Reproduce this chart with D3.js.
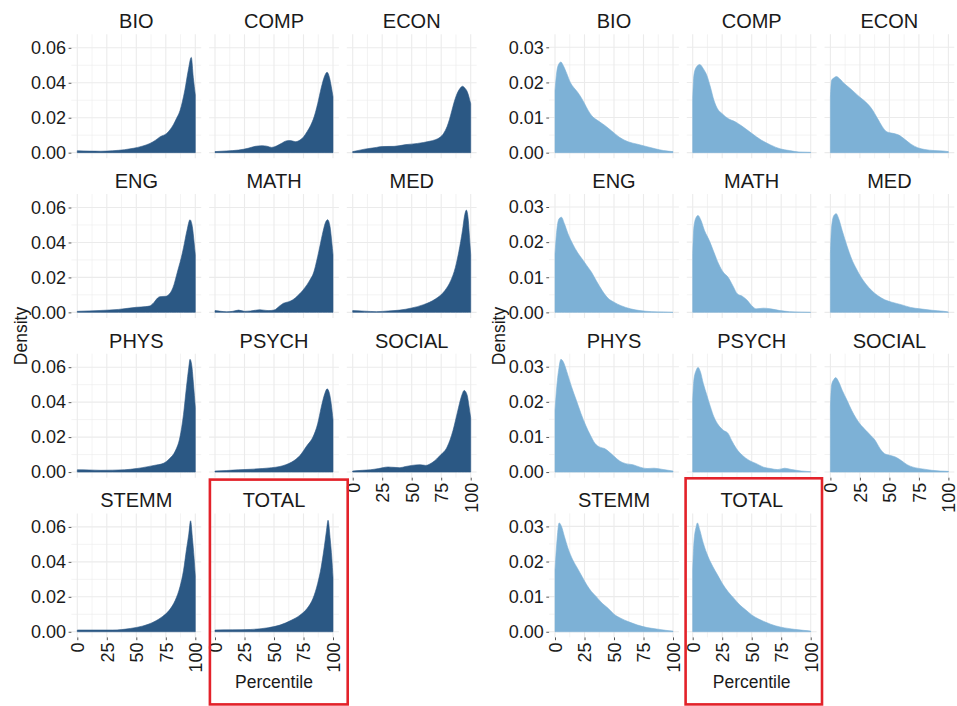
<!DOCTYPE html>
<html>
<head>
<meta charset="utf-8">
<script src="https://cdn.jsdelivr.net/npm/d3@7"></script>
<style>
  body { margin: 0; background: #fff; }
  svg { display: block; }
  text { font-family: "Liberation Sans", Arial, sans-serif; }
</style>
</head>
<body>
<svg id="chart" width="957" height="706"></svg>
<script>
// Fields shown as facets, in reading order
const fields = ["BIO", "COMP", "ECON", "ENG", "MATH", "MED", "PHYS", "PSYCH", "SOCIAL", "STEMM", "TOTAL"];
const xTicks = [0, 25, 50, 75, 100];
const xMinor = [12.5, 37.5, 62.5, 87.5];
const highYTicks = [0, 0.02, 0.04, 0.06];
const highYMinor = [0.01, 0.03, 0.05];
const lowYTicks = [0, 0.01, 0.02, 0.03];
const lowYMinor = [0.005, 0.015, 0.025];

// Density over percentile, high-percentile group: [percentile, density]
const highBIO = [[0,0.0011],[10,0.0009],[20,0.0008],[30,0.0011],[40,0.0017],[47.5,0.0025],[55,0.0037],[61.6,0.0053],[66,0.007],[70,0.009],[75.7,0.011],[81.4,0.016],[84,0.0195],[87,0.024],[89,0.029],[91.2,0.036],[94,0.047],[96.6,0.0545],[98.3,0.043],[100,0.033]];
const highCOMP = [[0,0.0006],[10,0.001],[20,0.0015],[28,0.0025],[34,0.0036],[40,0.004],[44,0.0037],[48,0.003],[52,0.0038],[56,0.0052],[61,0.0068],[64,0.0069],[68,0.0063],[72,0.0072],[75,0.009],[78,0.012],[81,0.0155],[84,0.0205],[87,0.028],[90,0.037],[93,0.044],[95,0.046],[97,0.043],[98.5,0.038],[100,0.032]];
const highECON = [[0,0.0006],[10,0.002],[20,0.003],[25,0.0035],[35,0.0036],[45,0.0046],[55,0.0053],[65,0.0065],[70,0.0074],[74,0.0088],[77,0.011],[80,0.015],[82,0.019],[84,0.024],[86,0.029],[88,0.033],[91,0.0368],[93,0.038],[95,0.037],[97,0.035],[100,0.028]];
const highENG = [[0,0.0006],[20,0.0011],[35,0.0017],[50,0.0029],[58,0.0033],[61,0.0036],[65,0.0057],[68,0.0082],[70,0.009],[75,0.0092],[78,0.0105],[80,0.0125],[82,0.016],[84,0.021],[86,0.026],[88,0.031],[90,0.037],[93,0.047],[95.5,0.053],[97.5,0.049],[99,0.04],[100,0.033]];
const highMATH = [[0,0.001],[5,0.0006],[10,0.0003],[15,0.0006],[20,0.0013],[25,0.0006],[30,0.0008],[38,0.0015],[45,0.001],[50,0.0013],[55,0.0038],[58,0.0052],[62,0.006],[66,0.0072],[70,0.0095],[73,0.0115],[76,0.014],[80,0.018],[84,0.0236],[86,0.029],[88,0.035],[91,0.0446],[94,0.052],[95.5,0.053],[97.5,0.049],[99,0.04],[100,0.033]];
const highMED = [[0,0.001],[10,0.0007],[20,0.0004],[30,0.0008],[40,0.0013],[50,0.0025],[60,0.0044],[70,0.0076],[78,0.0124],[83,0.018],[87,0.0257],[90,0.035],[93,0.0467],[95,0.056],[96.3,0.0585],[98,0.0524],[99,0.043],[100,0.033]];
const highPHYS = [[0,0.0013],[10,0.0012],[20,0.001],[30,0.0011],[40,0.0013],[50,0.002],[55,0.0025],[65,0.0038],[73,0.005],[78,0.0076],[83,0.012],[87,0.02],[90,0.033],[92.5,0.0486],[94.5,0.06],[95.5,0.0645],[97,0.061],[98.5,0.05],[100,0.037]];
const highPSYCH = [[0,0.0006],[10,0.0009],[20,0.0013],[30,0.0016],[40,0.002],[48,0.0025],[55,0.0032],[60,0.0042],[65,0.0057],[72,0.0095],[78,0.0152],[83,0.02],[87,0.0276],[90,0.037],[93,0.0448],[95,0.0476],[97,0.045],[98.5,0.039],[100,0.03]];
const highSOCIAL = [[0,0.0006],[8,0.001],[15,0.0013],[22,0.002],[30,0.0029],[35,0.0027],[40,0.0025],[45,0.0032],[50,0.0038],[57,0.0042],[62,0.0038],[65,0.0045],[68,0.0057],[74,0.0095],[80,0.0143],[85,0.0238],[89,0.035],[92,0.043],[94.5,0.0467],[97,0.044],[98.5,0.038],[100,0.031]];
const highSTEMM = [[0,0.001],[15,0.001],[30,0.001],[45,0.0019],[55,0.0032],[65,0.0057],[72,0.0086],[78,0.0124],[83,0.018],[87,0.0257],[90,0.035],[92.5,0.047],[94.5,0.056],[96,0.0635],[97.5,0.054],[99,0.042],[100,0.032]];
const highTOTAL = [[0,0.001],[15,0.0011],[30,0.0013],[45,0.0023],[55,0.0038],[65,0.0067],[72,0.0095],[78,0.0133],[83,0.019],[87,0.0276],[90,0.037],[92.5,0.048],[94.5,0.058],[95.8,0.0638],[97.5,0.054],[99,0.042],[100,0.031]];

// Density over percentile, low-percentile group: [percentile, density]
const lowBIO = [[0,0.0177],[1.5,0.023],[3,0.0251],[5,0.0258],[7,0.0248],[10,0.0225],[13,0.02],[16,0.0185],[19,0.0173],[22,0.0158],[25,0.014],[28,0.0121],[32,0.0102],[36,0.0092],[42,0.0078],[48,0.0062],[55,0.0043],[62,0.0031],[70,0.0024],[78,0.0017],[85,0.0011],[92,0.0006],[100,0.0003]];
const lowCOMP = [[0,0.0154],[1,0.022],[3,0.0243],[6,0.0251],[9,0.0239],[12,0.022],[15,0.0187],[18,0.0149],[21,0.0125],[25,0.0111],[30,0.0097],[36,0.0088],[42,0.0075],[50,0.0055],[58,0.0036],[66,0.0022],[74,0.0011],[82,0.0006],[90,0.0002],[100,0.0001]];
const lowECON = [[0,0.0158],[1,0.0206],[3,0.0213],[5,0.0217],[8,0.021],[12,0.0196],[16,0.0185],[20,0.0173],[25,0.0158],[30,0.0144],[35,0.0125],[40,0.0097],[44,0.0074],[48,0.0059],[53,0.0055],[58,0.005],[63,0.0038],[68,0.0025],[74,0.0014],[80,0.0009],[88,0.0006],[95,0.0005],[100,0.0003]];
const lowENG = [[0,0.0167],[1.5,0.0233],[3.5,0.0267],[5.5,0.0271],[8,0.0252],[11,0.0224],[15,0.0195],[19,0.0171],[23,0.0152],[27,0.0133],[31,0.0114],[35,0.009],[40,0.0062],[45,0.004],[50,0.0029],[56,0.0019],[64,0.001],[72,0.0005],[82,0.0002],[92,0.0001],[100,0]];
const lowMATH = [[0,0.0167],[1,0.0243],[3,0.0271],[4.5,0.0276],[7,0.0262],[10,0.0233],[14,0.0205],[18,0.0171],[22,0.0138],[26,0.0114],[30,0.01],[34,0.0076],[38,0.0052],[42,0.0046],[46,0.0035],[50,0.0019],[54,0.001],[60,0.0012],[66,0.001],[74,0.0005],[82,0.0002],[100,0]];
const lowMED = [[0,0.0167],[1,0.0243],[3,0.0276],[5,0.0281],[7,0.0267],[10,0.0233],[14,0.019],[18,0.0152],[22,0.0124],[26,0.01],[30,0.0081],[35,0.0062],[40,0.0048],[46,0.0036],[52,0.0029],[60,0.0022],[68,0.0014],[76,0.001],[86,0.0006],[96,0.0003],[100,0.0001]];
const lowPHYS = [[0,0.0176],[1.5,0.0243],[3.5,0.03],[5,0.0321],[7,0.0314],[10,0.0286],[14,0.0243],[18,0.0205],[22,0.0167],[26,0.0133],[30,0.0105],[34,0.0081],[38,0.0071],[42,0.0067],[46,0.0057],[50,0.0045],[55,0.0031],[60,0.0024],[66,0.0021],[72,0.0014],[78,0.001],[84,0.0011],[92,0.0007],[100,0.0003]];
const lowPSYCH = [[0,0.0205],[1,0.0262],[3,0.029],[4.5,0.0298],[6.5,0.0286],[9,0.0252],[12,0.0219],[15,0.0186],[18,0.0157],[22,0.0133],[26,0.0119],[30,0.011],[33,0.009],[37,0.0067],[42,0.0048],[48,0.0033],[54,0.0024],[60,0.0014],[66,0.001],[72,0.0007],[78,0.0011],[84,0.0007],[92,0.0003],[100,0.0001]];
const lowSOCIAL = [[0,0.0186],[1,0.0248],[3,0.0264],[4.5,0.0269],[7,0.0257],[10,0.0233],[14,0.0205],[18,0.0176],[22,0.0152],[26,0.0133],[30,0.0119],[34,0.0105],[38,0.009],[42,0.0067],[46,0.0052],[50,0.0048],[55,0.0043],[60,0.0033],[65,0.0021],[70,0.0014],[78,0.0009],[86,0.0005],[100,0.0002]];
const lowSTEMM = [[0,0.0176],[1.5,0.0252],[3.5,0.031],[5.5,0.03],[8,0.0271],[11,0.0238],[15,0.0205],[19,0.0181],[23,0.0157],[27,0.0133],[31,0.0114],[35,0.01],[40,0.0081],[45,0.0067],[50,0.005],[56,0.0038],[62,0.0029],[70,0.0019],[78,0.0012],[86,0.0008],[94,0.0004],[100,0.0002]];
const lowTOTAL = [[0,0.0176],[1,0.0252],[3,0.03],[4,0.031],[6,0.029],[9,0.0252],[13,0.0214],[17,0.0186],[21,0.0162],[25,0.0138],[30,0.0114],[35,0.0095],[40,0.0076],[45,0.0062],[50,0.0048],[56,0.0036],[62,0.0027],[70,0.0017],[78,0.0011],[86,0.0007],[94,0.0004],[100,0.0002]];

const highSeries = [highBIO, highCOMP, highECON, highENG, highMATH, highMED, highPHYS, highPSYCH, highSOCIAL, highSTEMM, highTOTAL];
const lowSeries = [lowBIO, lowCOMP, lowECON, lowENG, lowMATH, lowMED, lowPHYS, lowPSYCH, lowSOCIAL, lowSTEMM, lowTOTAL];

// Layout
const PANEL_W = 129.8, PANEL_H = 124;
const COL_STEP = 137.7, ROW_STEP = 159.7, PANEL_TOP = 34.3;
const TEXT = "#1a1a1a";
const GRID = "#ebebeb";

const svg = d3.select("#chart");
svg.append("rect").attr("width", 957).attr("height", 706).attr("fill", "#fff");

function drawFigure(cfg) {
  const g = svg.append("g");
  const yMax = d3.max(cfg.series, s => d3.max(s, d => d[1]));
  const yDomain = [-0.05 * yMax, 1.05 * yMax];
  const fmt = d3.format(".2f");

  fields.forEach((name, i) => {
    const row = Math.floor(i / 3), col = i % 3;
    const left = cfg.left + col * COL_STEP;
    const top = PANEL_TOP + row * ROW_STEP;
    const x = d3.scaleLinear().domain([-5, 105]).range([left, left + PANEL_W]);
    const y = d3.scaleLinear().domain(yDomain).range([top + PANEL_H, top]);
    const p = g.append("g");

    // grid
    p.selectAll(".vmin").data(xMinor).join("line")
      .attr("x1", d => x(d)).attr("x2", d => x(d))
      .attr("y1", top).attr("y2", top + PANEL_H)
      .attr("stroke", GRID).attr("stroke-width", 0.6);
    p.selectAll(".hmin").data(cfg.yMinor).join("line")
      .attr("x1", left).attr("x2", left + PANEL_W)
      .attr("y1", d => y(d)).attr("y2", d => y(d))
      .attr("stroke", GRID).attr("stroke-width", 0.6);
    p.selectAll(".vmaj").data(xTicks).join("line")
      .attr("x1", d => x(d)).attr("x2", d => x(d))
      .attr("y1", top).attr("y2", top + PANEL_H)
      .attr("stroke", GRID).attr("stroke-width", 1.1);
    p.selectAll(".hmaj").data(cfg.yTicks).join("line")
      .attr("x1", left).attr("x2", left + PANEL_W)
      .attr("y1", d => y(d)).attr("y2", d => y(d))
      .attr("stroke", GRID).attr("stroke-width", 1.1);

    // density area
    const area = d3.area()
      .x(d => x(d[0]))
      .y0(y(0))
      .y1(d => y(d[1]))
      .curve(d3.curveMonotoneX);
    p.append("path").datum(cfg.series[i])
      .attr("d", area)
      .attr("fill", cfg.color)
      .attr("stroke", cfg.color)
      .attr("stroke-width", 0.6);

    // facet title
    p.append("text")
      .attr("x", left + PANEL_W / 2).attr("y", top - 6)
      .attr("text-anchor", "middle")
      .attr("font-size", 20).attr("fill", TEXT)
      .text(name);

    // y axis on the first column
    if (col === 0) {
      const ax = p.append("g").attr("transform", `translate(${left},0)`)
        .call(d3.axisLeft(y).tickValues(cfg.yTicks).tickFormat(fmt).tickSize(2.8).tickPadding(2.6));
      ax.select(".domain").remove();
      ax.selectAll(".tick line").attr("stroke", "#555");
      ax.selectAll(".tick text").attr("font-size", 18).attr("fill", TEXT)
        .attr("font-family", "Liberation Sans, Arial, sans-serif");
    }

    // x axis under the last panel of each column
    if (i + 3 >= fields.length) {
      const ax = p.append("g").attr("transform", `translate(0,${top + PANEL_H})`)
        .call(d3.axisBottom(x).tickValues(xTicks).tickSize(2.8));
      ax.select(".domain").remove();
      ax.selectAll(".tick line").attr("stroke", "#555");
      ax.selectAll(".tick text")
        .attr("transform", "rotate(-90)")
        .attr("x", -5).attr("y", 0).attr("dy", "0.35em")
        .attr("text-anchor", "end")
        .attr("font-size", 18).attr("fill", TEXT)
        .attr("font-family", "Liberation Sans, Arial, sans-serif");
    }
  });

  // axis titles
  g.append("text")
    .attr("transform", `translate(${cfg.yTitleX},336) rotate(-90)`)
    .attr("text-anchor", "middle")
    .attr("font-size", 17.5).attr("fill", TEXT)
    .text("Density");
  g.append("text")
    .attr("x", cfg.left + COL_STEP + PANEL_W / 2).attr("y", 688)
    .attr("text-anchor", "middle")
    .attr("font-size", 17.5).attr("fill", TEXT)
    .text("Percentile");

  // highlight frame around the TOTAL facet
  g.append("rect")
    .attr("x", cfg.box[0]).attr("y", cfg.box[1])
    .attr("width", cfg.box[2]).attr("height", cfg.box[3])
    .attr("fill", "none").attr("stroke", "#e3222a").attr("stroke-width", 2.6);
}

drawFigure({
  series: highSeries, left: 71.4, color: "#2b5884",
  yTicks: highYTicks, yMinor: highYMinor, yTitleX: 26.7,
  box: [209.9, 479.6, 137.8, 224.8]
});
drawFigure({
  series: lowSeries, left: 549.1, color: "#7db1d6",
  yTicks: lowYTicks, yMinor: lowYMinor, yTitleX: 505,
  box: [685.6, 478.3, 136.4, 226.1]
});
</script>
</body>
</html>
